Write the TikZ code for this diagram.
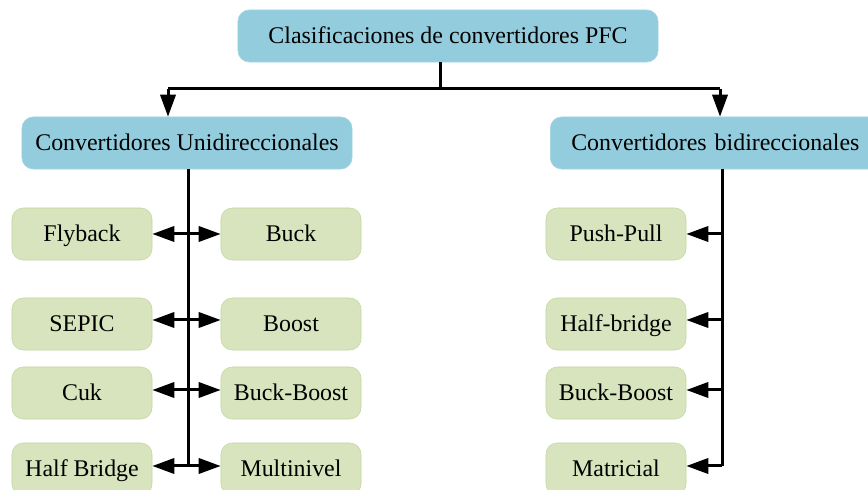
\documentclass[tikz,border=0pt]{standalone}
\usepackage{fontspec}
\setmainfont{Liberation Serif}
\usetikzlibrary{arrows.meta}
\definecolor{pfcblue}{RGB}{147,205,221}
\definecolor{convfill}{RGB}{215,228,189}
\definecolor{convline}{RGB}{196,215,160}

\tikzset{
	catbox/.style={fill=pfcblue, draw=pfcblue!85!white, rounded corners=8pt, minimum height=1.3cm, inner sep=0pt, text height=0.49cm, text depth=0.1cm, font=\fontsize{17}{20}\selectfont},
	convbox/.style={fill=convfill, draw=convline, rounded corners=8pt, minimum width=3.5cm, minimum height=1.3cm, inner sep=0pt, text height=0.49cm, text depth=0.1cm, font=\fontsize{17}{20}\selectfont},
	link/.style={black, line width=0.075cm, -{Triangle[length=0.55cm,width=0.38cm]}},
	trunk/.style={black, line width=0.075cm}
}

\begin{document}
\begin{tikzpicture}[x=0.025cm, y=-0.025cm]
\useasboundingbox (0,0) rectangle (868,490);
% categories
\node[catbox, minimum width=10.5cm] (pfc) at (448,36) {Clasificaciones de convertidores PFC};
\node[catbox, minimum width=8.25cm] (uni) at (187,143) {Convertidores Unidireccionales};
\node[catbox, anchor=west, inner xsep=0.525cm, text width=7.6cm, align=left] (bi) at (550,143) {Convertidores bidireccionales};
% converters
\node[convbox] (fly) at (82,234) {Flyback};
\node[convbox] (sep) at (82,324) {SEPIC};
\node[convbox] (cuk) at (82,393) {Cuk};
\node[convbox] (hbr) at (82,469) {Half Bridge};
\node[convbox] (buck) at (291,234) {Buck};
\node[convbox] (boost) at (291,324) {Boost};
\node[convbox] (bb) at (291,393) {Buck-Boost};
\node[convbox] (mul) at (291,469) {Multinivel};
\node[convbox] (pp) at (616,234) {Push-Pull};
\node[convbox] (hbg) at (616,324) {Half-bridge};
\node[convbox] (bbb) at (616,393) {Buck-Boost};
\node[convbox] (mat) at (616,469) {Matricial};
% top connector
\coordinate (tj) at (440,89);
\coordinate (lt) at (188,0);
\coordinate (rt) at (722,0);
\draw[trunk] (pfc.south -| tj) -- (tj);
\draw[trunk] (tj) -| (168,89) coordinate (ul);
\draw[trunk] (tj) -| (720,89) coordinate (ur);
\draw[link] (ul) -- (ul |- uni.north);
\draw[link] (ur) -- (ur |- bi.north);
% left trunk
\draw[trunk] (uni.south -| lt) -- (lt |- 0,466);
\foreach \a/\b/\y in {fly/buck/234, sep/boost/320, cuk/bb/390, hbr/mul/466}{
	\draw[link] (lt |- 0,\y) -- (\a.east |- 0,\y);
	\draw[link] (lt |- 0,\y) -- (\b.west |- 0,\y);
}
% right trunk
\draw[trunk] (bi.south -| rt) -- (rt |- 0,466);
\foreach \c/\y in {pp/234, hbg/320, bbb/390, mat/466}{
	\draw[link] (rt |- 0,\y) -- (\c.east |- 0,\y);
}
\end{tikzpicture}
\end{document}
